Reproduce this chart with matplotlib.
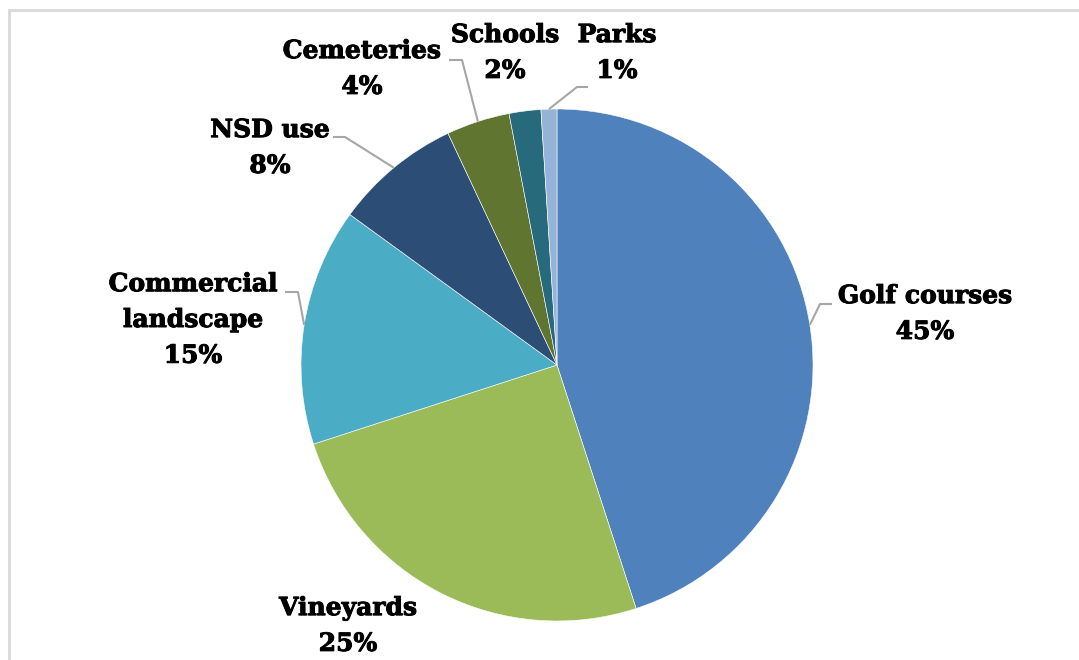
import numpy as np
import matplotlib
matplotlib.use("Agg")
import matplotlib.pyplot as plt
import matplotlib.patheffects as pe
from matplotlib.patches import Rectangle

# Data (share of use, %)
categories = ["Golf courses", "Vineyards", "Commercial\nlandscape", "NSD use",
              "Cemeteries", "Schools", "Parks"]
shares = [45, 25, 15, 8, 4, 2, 1]
colors = ["#4F81BD", "#9BBB59", "#4BACC6", "#2C4D75", "#5F7530", "#276A7C", "#95B3D7"]

# label block centres (pixels, from top-left) and leader line bends
label_pos = [(925, 314), (348, 626), (193, 320), (270, 148), (362, 69), (505, 53), (617, 53)]
leader_knee = [(820, 304), None, (298, 292), (345, 137), (462, 60), None, (577, 87)]
leader_end = [(832, 304), None, (285, 292), (333, 137), (449, 60), None, (588, 87)]

W, H = 1079, 660
fig = plt.figure(figsize=(W / 100, H / 100), dpi=100)
ax = fig.add_axes([0, 0, 1, 1])

# light frame of the chart area
fig.patches.append(Rectangle((8.5 / W, -0.1), 1.2, (H - 9.5) / H + 0.1, transform=fig.transFigure,
                             fill=False, edgecolor="#D9D9D9", linewidth=2))

cx, cy, r = 557, H - 365, 256
wedges, _ = ax.pie(shares, colors=colors, startangle=90, counterclock=False,
                   center=(cx, cy), radius=r, frame=True,
                   wedgeprops=dict(edgecolor="white", linewidth=0.4))
ax.set_xlim(0, W)
ax.set_ylim(0, H)
ax.axis("off")

font = dict(family="DejaVu Serif", weight="bold", size=18)
for w, lab, val, pos, knee, end in zip(wedges, categories, shares, label_pos, leader_knee, leader_end):
    ax.text(pos[0], H - pos[1], f"{lab}\n{val}%", ha="center", va="center",
            linespacing=1.62, color="black",
            path_effects=[pe.withStroke(linewidth=0.7, foreground="black")], **font)
    if knee is not None:
        mid = np.radians((w.theta1 + w.theta2) / 2)
        x0, y0 = cx + r * np.cos(mid), cy + r * np.sin(mid)
        ax.plot([x0, knee[0], end[0]], [y0, H - knee[1], H - end[1]],
                color="#A6A6A6", linewidth=1.5, solid_capstyle="butt")

fig.savefig("out.png", dpi=100)
